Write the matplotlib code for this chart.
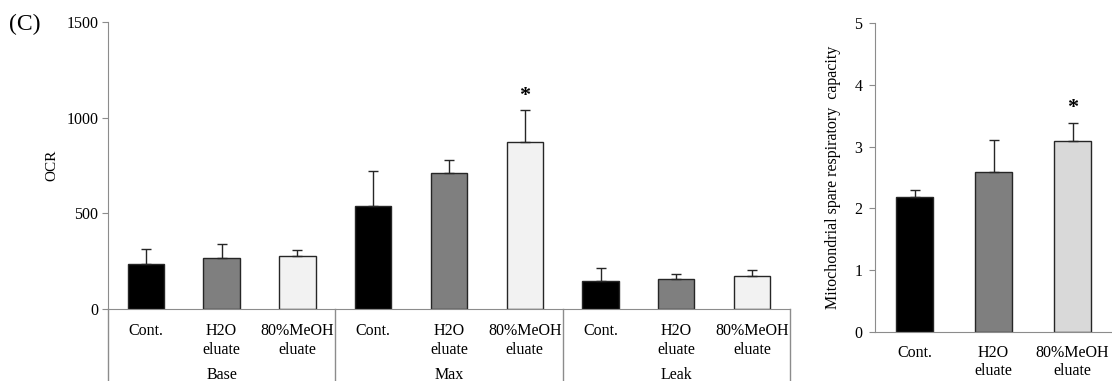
import matplotlib
matplotlib.use('Agg')
import matplotlib.pyplot as plt
import numpy as np

plt.rcParams['font.family'] = ['Liberation Serif', 'DejaVu Serif']

# OCR panel data
groups = ['Base', 'Max', 'Leak']
treatments = ['Cont.', 'H2O\neluate', '80%MeOH\neluate']
ocr_mean = [235, 267, 277, 538, 711, 872, 146, 157, 172]
ocr_err = [78, 73, 31, 183, 68, 168, 68, 26, 32]
ocr_star = [False, False, False, False, False, True, False, False, False]

# spare capacity panel data
src_mean = [2.18, 2.59, 3.09]
src_err = [0.12, 0.51, 0.30]
src_star = [False, False, True]

left_colors = ['#000000', '#7f7f7f', '#f2f2f2']
right_colors = ['#000000', '#7f7f7f', '#d9d9d9']
axis_gray = '#8c8c8c'

fig = plt.figure(figsize=(11.12, 3.81), dpi=100)

# ---- left panel ----
ax = fig.add_axes([0.0971, 0.189, 0.6133, 0.7533])
x = np.arange(len(ocr_mean))
cols = left_colors * len(groups)
ax.bar(x, ocr_mean, width=0.48, color=cols, edgecolor='#262626', linewidth=1.0, zorder=2)
ax.errorbar(x, ocr_mean, yerr=[np.zeros(len(x)), ocr_err], fmt='none', ecolor='#262626',
            elinewidth=1.0, capsize=3.5, capthick=1.0, zorder=3)
for xi, m, e, s in zip(x, ocr_mean, ocr_err, ocr_star):
    if s:
        ax.annotate('*', (xi, m + e), xytext=(0, 3), textcoords='offset points',
                    ha='center', va='bottom', fontsize=16, fontweight='bold')
ax.set_xlim(-0.5, len(x) - 0.5)
ax.set_ylim(0, 1500)
ax.set_yticks([0, 500, 1000, 1500])
ax.set_xticks(x)
ax.set_xticklabels(treatments * len(groups), fontsize=11.5, linespacing=1.22)
ax.tick_params(axis='x', length=0, pad=10)
ax.tick_params(axis='y', length=4, color=axis_gray, labelsize=11.5, pad=3)
for sp in ['top', 'right']:
    ax.spines[sp].set_visible(False)
for sp in ['left', 'bottom']:
    ax.spines[sp].set_color(axis_gray)
ax.set_ylabel('OCR', fontsize=11, labelpad=6)
# group divider lines and group labels below the axis
n = len(treatments)
trans = ax.get_xaxis_transform()
for k in range(len(groups) + 1):
    xd = k * n - 0.5
    ax.plot([xd, xd], [0, -0.26], transform=trans, color=axis_gray, lw=1.0, clip_on=False)
for k, g in enumerate(groups):
    ax.text(k * n + (n - 1) / 2, -0.23, g, transform=trans, ha='center', va='center', fontsize=11.5)

fig.text(0.008, 0.935, '(C)', fontsize=17, ha='left', va='center')

# ---- right panel ----
ax2 = fig.add_axes([0.7869, 0.1286, 0.2131, 0.811])
x2 = np.arange(len(src_mean))
ax2.bar(x2, src_mean, width=0.48, color=right_colors, edgecolor='#262626', linewidth=1.0, zorder=2)
ax2.errorbar(x2, src_mean, yerr=[np.zeros(len(x2)), src_err], fmt='none', ecolor='#262626',
             elinewidth=1.0, capsize=3.5, capthick=1.0, zorder=3)
for xi, m, e, s in zip(x2, src_mean, src_err, src_star):
    if s:
        ax2.annotate('*', (xi, m + e), xytext=(0, 3), textcoords='offset points',
                     ha='center', va='bottom', fontsize=16, fontweight='bold')
ax2.set_xlim(-0.5, len(x2) - 0.5)
ax2.set_ylim(0, 5)
ax2.set_yticks([0, 1, 2, 3, 4, 5])
ax2.set_xticks(x2)
ax2.set_xticklabels(treatments, fontsize=11.5, linespacing=1.22)
ax2.tick_params(axis='x', length=0, pad=9)
ax2.tick_params(axis='y', length=4, color=axis_gray, labelsize=11.5, pad=5)
for sp in ['top', 'right']:
    ax2.spines[sp].set_visible(False)
for sp in ['left', 'bottom']:
    ax2.spines[sp].set_color(axis_gray)
ax2.set_ylabel('Mitochondrial spare respiratory  capacity', fontsize=11.5, labelpad=10)

fig.savefig('out.png', dpi=100)
